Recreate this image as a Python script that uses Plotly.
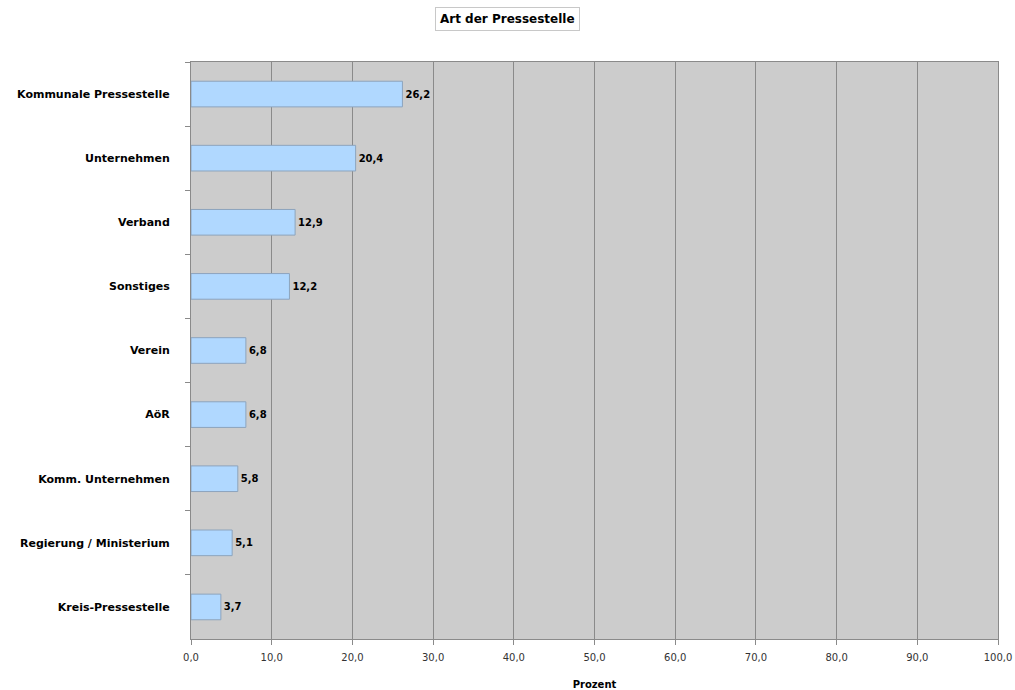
import plotly.graph_objects as go

categories = ["Kommunale Pressestelle", "Unternehmen", "Verband", "Sonstiges", "Verein",
              "AöR", "Komm. Unternehmen", "Regierung / Ministerium", "Kreis-Pressestelle"]
values = [26.2, 20.4, 12.9, 12.2, 6.8, 6.8, 5.8, 5.1, 3.7]
x_ticks = [0, 10, 20, 30, 40, 50, 60, 70, 80, 90, 100]

FONT = "DejaVu Sans"

fig = go.Figure(go.Bar(
    y=categories, x=values, orientation="h", width=0.4,
    marker=dict(color="#b0d8ff", line=dict(color="#8da4bd", width=1)),
    text=values, texttemplate="<b>%{x:.1f}</b>", textposition="outside",
    textfont=dict(size=10, color="#000000", family=FONT),
    cliponaxis=False,
))

L, R, T, B = 191, 17, 62, 51
W, H = 1015, 690
fig.update_layout(
    width=W, height=H,
    margin=dict(l=L, r=R, t=T, b=B, autoexpand=False),
    paper_bgcolor="white", plot_bgcolor="#cccccc",
    separators=",.",
    showlegend=False,
    font=dict(family=FONT, size=10, color="#000000"),
    annotations=[dict(
        text="<b>Art der Pressestelle</b>", xref="paper", yref="paper",
        x=(W / 2 - L) / (W - L - R), y=1 + (T - 19.5) / (H - T - B),
        xanchor="center", yanchor="middle", showarrow=False,
        font=dict(size=12, color="#000000", family=FONT),
        bordercolor="#c8c8c8", borderwidth=1, borderpad=4, bgcolor="white",
    )],
)

fig.update_xaxes(
    range=[0, 100], tickvals=x_ticks, tickformat=".1f",
    showgrid=True, gridcolor="#8a8a8a", gridwidth=1,
    ticks="outside", ticklen=5, tickcolor="#8a8a8a",
    showline=True, linecolor="#8a8a8a", linewidth=1, mirror=True,
    ticklabelstandoff=4,
    tickfont=dict(size=10, color="#333333", family=FONT),
    title=dict(text="<b>Prozent</b>", font=dict(size=10, family=FONT), standoff=18),
    zeroline=False, automargin=False,
)
fig.update_yaxes(
    autorange="reversed", categoryorder="array", categoryarray=categories,
    showgrid=False, ticks="outside", ticklen=5, tickcolor="#8a8a8a",
    tickson="boundaries", ticklabelstandoff=18,
    showline=True, linecolor="#8a8a8a", linewidth=1, mirror=True,
    tickfont=dict(size=11, color="#000000", family=FONT),
    tickprefix="<b>", ticksuffix="</b>", automargin=False,
)

fig.write_html("out.html")
